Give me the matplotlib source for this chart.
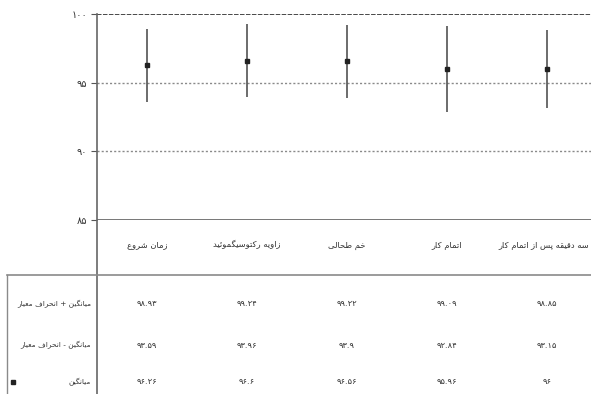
import matplotlib
matplotlib.use("Agg")
import matplotlib.pyplot as plt
from matplotlib.lines import Line2D

plt.rcParams['font.family'] = ['DejaVu Sans']

# ---- data ----
categories = ["زمان شروع", "زاویه رکتوسیگموئید", "خم طحالی", "اتمام کار",
              "سه دقیقه پس از اتمام کار"]
mean_plus_sd = [98.93, 99.24, 99.22, 99.09, 98.85]
mean_minus_sd = [93.59, 93.96, 93.90, 92.84, 93.15]
mean_values = [96.26, 96.60, 96.56, 95.96, 96.00]
row_labels = ["میانگین + انحراف معیار", "میانگین - انحراف معیار", "میانگین"]
y_ticks = [85, 90, 95, 100]

# ---- Persian text helpers (manual contextual shaping + visual order) ----
FORMS = {
    'ا': ('\uFE8D', '\uFE8E'), 'آ': ('\uFE81', '\uFE82'),
    'ب': ('\uFE8F', '\uFE90', '\uFE91', '\uFE92'),
    'پ': ('\uFB56', '\uFB57', '\uFB58', '\uFB59'),
    'ت': ('\uFE95', '\uFE96', '\uFE97', '\uFE98'),
    'ج': ('\uFE9D', '\uFE9E', '\uFE9F', '\uFEA0'),
    'ح': ('\uFEA1', '\uFEA2', '\uFEA3', '\uFEA4'),
    'خ': ('\uFEA5', '\uFEA6', '\uFEA7', '\uFEA8'),
    'د': ('\uFEA9', '\uFEAA'), 'ر': ('\uFEAD', '\uFEAE'),
    'ز': ('\uFEAF', '\uFEB0'),
    'س': ('\uFEB1', '\uFEB2', '\uFEB3', '\uFEB4'),
    'ش': ('\uFEB5', '\uFEB6', '\uFEB7', '\uFEB8'),
    'ط': ('\uFEC1', '\uFEC2', '\uFEC3', '\uFEC4'),
    'ع': ('\uFEC9', '\uFECA', '\uFECB', '\uFECC'),
    'ف': ('\uFED1', '\uFED2', '\uFED3', '\uFED4'),
    'ق': ('\uFED5', '\uFED6', '\uFED7', '\uFED8'),
    'ک': ('\uFB8E', '\uFB8F', '\uFB90', '\uFB91'),
    'گ': ('\uFB92', '\uFB93', '\uFB94', '\uFB95'),
    'ل': ('\uFEDD', '\uFEDE', '\uFEDF', '\uFEE0'),
    'م': ('\uFEE1', '\uFEE2', '\uFEE3', '\uFEE4'),
    'ن': ('\uFEE5', '\uFEE6', '\uFEE7', '\uFEE8'),
    'و': ('\uFEED', '\uFEEE'),
    'ه': ('\uFEE9', '\uFEEA', '\uFEEB', '\uFEEC'),
    'ی': ('\uFBFC', '\uFBFD', '\uFBFE', '\uFBFF'),
    'ئ': ('\uFE89', '\uFE8A', '\uFE8B', '\uFE8C'),
}


def fa(text):
    out = []
    n = len(text)
    for i, ch in enumerate(text):
        if ch not in FORMS:
            out.append(ch)
            continue
        f = FORMS[ch]
        prev = text[i - 1] if i > 0 else ''
        nxt = text[i + 1] if i < n - 1 else ''
        join_prev = prev in FORMS and len(FORMS[prev]) == 4
        join_next = len(f) == 4 and nxt in FORMS
        if join_prev and join_next:
            out.append(f[3])
        elif join_prev:
            out.append(f[1])
        elif join_next:
            out.append(f[2])
        else:
            out.append(f[0])
    return ''.join(reversed(out))


DIGITS = str.maketrans('0123456789', '۰۱۲۳۴۵۶۷۸۹')


def fa_num(v):
    s = f"{v:.2f}".rstrip('0').rstrip('.')
    return s.translate(DIGITS)


# ---- figure ----
W, H = 591, 394
fig = plt.figure(figsize=(W / 100, H / 100), dpi=100)


def fx(x):
    return x / W


def fy(y):
    return 1 - y / H


left, right, top, bottom = 97, 597, 14, 220
ax = fig.add_axes([fx(left), fy(bottom), fx(right - left), fy(top) - fy(bottom)])
n = len(categories)
xs = [i + 0.5 for i in range(n)]
ax.set_xlim(0, n)
ax.set_ylim(85, 100)

# horizontal reference lines
ax.axhline(100, color='#3a3a3a', lw=1.3, ls=(0, (2.5, 0.8)), zorder=1)
for yv in (95, 90):
    ax.axhline(yv, color='#8a8a8a', lw=1.0, ls=(0, (1.5, 1.5)), zorder=1)
ax.axhline(85, color='#777777', lw=1.4, zorder=1)

# error bars (mean ± SD) and means
ax.vlines(xs, mean_minus_sd, mean_plus_sd, color='#444444', lw=1.1, zorder=2)
ax.plot(xs, mean_values, ls='none', marker='s', ms=2.8, color='#222222', zorder=3)

for s in ax.spines.values():
    s.set_visible(False)
ax.set_xticks([])
ax.set_yticks(y_ticks)
ax.set_yticklabels([str(t).translate(DIGITS) for t in y_ticks], fontsize=7,
                   color='#333333')
ax.tick_params(axis='y', length=4, width=0.8, color='#555555', pad=3)

# vertical axis line running down through the table
fig.add_artist(Line2D([fx(left), fx(left)], [fy(top), 0], color='#666666', lw=1.2))

# category labels
for i, (x, c) in enumerate(zip(xs, categories)):
    cx = left + x * 100
    if i == n - 1:
        fig.text(fx(589), fy(245), fa(c), ha='right', va='center',
                 fontsize=6, color='#333333')
    else:
        fig.text(fx(cx), fy(245), fa(c), ha='center', va='center',
                 fontsize=6, color='#333333')

# table frame
fig.add_artist(Line2D([fx(7), 1], [fy(275), fy(275)], color='#8a8a8a', lw=1.2))
fig.add_artist(Line2D([fx(7), fx(7)], [fy(275), 0], color='#8a8a8a', lw=1.0))

row_y = [304, 345, 382]
rows = [mean_plus_sd, mean_minus_sd, mean_values]
for ry, lab, vals in zip(row_y, row_labels, rows):
    fig.text(fx(91), fy(ry), fa(lab), ha='right', va='center', fontsize=5.3,
             color='#333333')
    for x, v in zip(xs, vals):
        fig.text(fx(left + x * 100), fy(ry), fa_num(v), ha='center', va='center',
                 fontsize=6, color='#333333')

# legend key for the mean row
fig.add_artist(Line2D([fx(13)], [fy(row_y[2])], marker='s', ms=2.5,
                      color='#222222', ls='none'))

fig.savefig('out.png', dpi=100)
